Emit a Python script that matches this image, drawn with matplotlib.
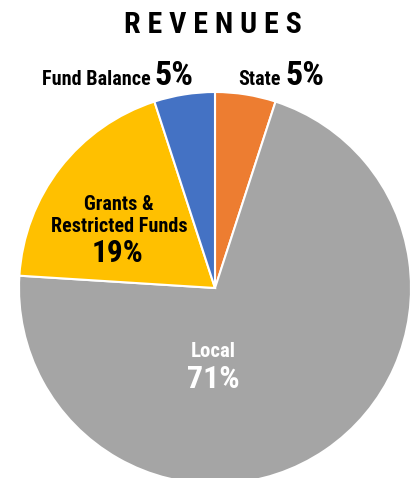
import matplotlib.pyplot as plt

categories = ["State", "Local", "Grants &\nRestricted Funds", "Fund Balance"]
shares = [5, 71, 19, 5]
colors = ["#ED7D31", "#A5A5A5", "#FFC000", "#4472C4"]

W, H = 416, 478
plt.rcParams["font.family"] = ["Roboto Condensed", "DejaVu Sans"]

fig = plt.figure(figsize=(W / 100, H / 100), dpi=100)

# pie centre and radius in pixels (from top-left)
cx, cy, r = 215, 288, 196
ax = fig.add_axes([(cx - r) / W, (H - cy - r) / H, 2 * r / W, 2 * r / H])
ax.pie(shares, colors=colors, startangle=90, counterclock=False,
       wedgeprops=dict(edgecolor="white", linewidth=1.5))
ax.set_xlim(-1, 1)
ax.set_ylim(-1, 1)
ax.set_aspect("equal")
ax.axis("off")


def px(x, y):
    return x / W, 1 - y / H


def label(x, y, text, size, **kw):
    fig.text(*px(x, y), text, fontsize=size, fontweight="bold", **kw)


label(213, 33, "R E V E N U E S", 21.5, ha="center", va="baseline")

label(151, 85, "Fund Balance", 14.5, ha="right", va="baseline")
label(154, 85, f"{shares[3]}%", 24.5, ha="left", va="baseline")
label(281, 85, "State", 14.5, ha="right", va="baseline")
label(285, 85, f"{shares[0]}%", 24.5, ha="left", va="baseline")

label(119, 232, categories[2], 14.5, ha="center", va="baseline", linespacing=1.2)
label(118, 262, f"{shares[2]}%", 22.5, ha="center", va="baseline")

label(213, 357, categories[1], 15, ha="center", va="baseline", color="white")
label(213, 388, f"{shares[1]}%", 23, ha="center", va="baseline", color="white")

fig.savefig("out.png", dpi=100)
